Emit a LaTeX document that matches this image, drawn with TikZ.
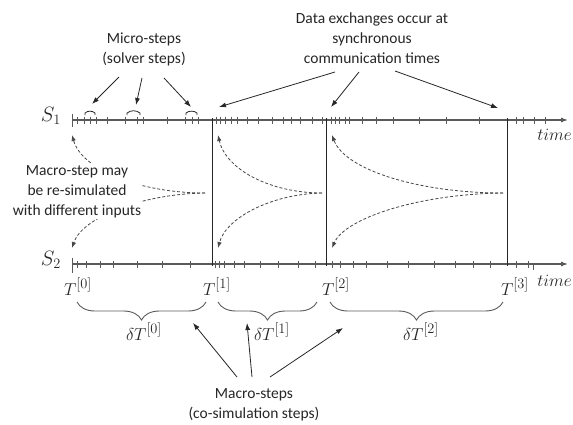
\documentclass[tikz,border=0pt]{standalone}
\usepackage{fontspec}
\setmainfont{Carlito}
\usetikzlibrary{arrows.meta,decorations.pathreplacing}
\DeclareMathSizes{18}{18}{14}{10}
\definecolor{axisgray}{HTML}{5A5A5A}
\definecolor{inkc}{HTML}{262626}
\begin{document}
\begin{tikzpicture}[x=1pt,y=-1pt,
  lbl/.style={inner sep=1pt,text=inkc,align=center,font=\fontsize{15.5}{20}\selectfont},
  mathlbl/.style={inner sep=0pt,text=inkc,font=\fontsize{18}{20}\selectfont},
  timelbl/.style={inner sep=0pt,text=inkc,font=\fontsize{16}{18}\selectfont},
  axisline/.style={draw=axisgray,line width=1.1pt,-{Latex[length=7pt,width=5pt]}},
  tickmark/.style={draw=axisgray,line width=0.8pt},
  commline/.style={draw=inkc,line width=1pt},
  ptr/.style={draw=inkc,line width=0.8pt,-{Latex[length=7pt,width=5pt]}},
  dashptr/.style={draw=inkc!85,line width=0.8pt,dash pattern=on 3pt off 2pt,-{Latex[length=6pt,width=4.5pt]}},
  bracestyle/.style={draw=axisgray,line width=0.9pt,decorate,decoration={brace,amplitude=18pt,mirror}},
  microarc/.style={draw=inkc,line width=0.8pt}]
\useasboundingbox (0,0) rectangle (573,424);

% axes
\coordinate (a1s) at (72.7,120);
\coordinate (a1e) at (568,120);
\coordinate (a2s) at (72.7,264);
\coordinate (a2e) at (568,264);
\draw[axisline] (a1s) -- (a1e);
\draw[axisline] (a2s) -- (a2e);
\draw[tickmark] (72.7,114) -- (72.7,127);
\draw[tickmark] (72.7,258) -- (72.7,273);
\foreach \x in {77,84,90,96,107,125,137,143,167,185,192,198,216,220,225,231,237,247,258,272,283,291,300,312,322,331,335,339,345,349,362,376,393,419,446,479,516,523,534,545}
  \draw[tickmark] (\x,116.5) -- (\x,123.5);
\foreach \x in {77,86,100,113,137,162,190,215,219,224,234,244,260,278,298,315,332,340,353,366,387,408,434,455,473,490,516,528}
  \draw[tickmark] (\x,260.5) -- (\x,267.5);
\draw[tickmark] (533,263) -- (533,270);

% communication time lines
\draw[commline] (212,118) -- (212,266);
\draw[commline] (326,118) -- (326,266);
\draw[commline] (507,118) -- (507,266);

% micro-step arcs
\draw[microarc] (85,115) -- (85,113) .. controls (88,110.5) and (92,110.5) .. (95,113) -- (95,115);
\draw[microarc] (127,115) -- (127,113) .. controls (131,110) and (136,110) .. (140,113) -- (140,115);
\draw[microarc] (186,115) -- (186,113) .. controls (189,110.5) and (194,110.5) .. (197,113) -- (197,115);

% axis labels
\node[mathlbl,font=\fontsize{20}{22}\selectfont] (s1) at (51,116) {$S_1$};
\node[mathlbl,font=\fontsize{20}{22}\selectfont] (s2) at (51,260) {$S_2$};
\node[timelbl,anchor=base east] (time1) at (572,140) {$time$};
\node[timelbl,anchor=base east] (time2) at (572,286) {$time$};

\node[mathlbl,anchor=base west] (t0) at (64,295) {$T^{[0]}$};
\node[mathlbl,anchor=base west] (t1) at (203,295) {$T^{[1]}$};
\node[mathlbl,anchor=base west] (t2) at (322,295) {$T^{[2]}$};
\node[mathlbl,anchor=base west] (t3) at (501,295) {$T^{[3]}$};

% braces
\draw[bracestyle] (77,302) -- (206,302);
\draw[bracestyle] (218,302) -- (317,302);
\draw[bracestyle] (330,302) -- (503,302);
\node[mathlbl,anchor=base] (dt0) at (144,340) {$\delta T^{[0]}$};
\node[mathlbl,anchor=base] (dt1) at (272,340) {$\delta T^{[1]}$};
\node[mathlbl,anchor=base] (dt2) at (421,340) {$\delta T^{[2]}$};

% re-simulation dashed arrows
\coordinate (m1) at (205,193);
\coordinate (u1) at (72,135);
\coordinate (l1) at (72,248);
\coordinate (m2) at (322,193);
\coordinate (u2) at (218,135);
\coordinate (l2) at (218,248);
\coordinate (m3) at (503,193);
\coordinate (u3) at (332,135);
\coordinate (l3) at (332,248);
\draw[dashptr] (m1) .. controls (140,193) and (82,170) .. (u1);
\draw[dashptr] (m1) .. controls (140,194) and (82,218) .. (l1);
\draw[dashptr] (m2) .. controls (271,193) and (226,170) .. (u2);
\draw[dashptr] (m2) .. controls (271,194) and (226,218) .. (l2);
\draw[dashptr] (m3) .. controls (419,193) and (345,170) .. (u3);
\draw[dashptr] (m3) .. controls (419,194) and (345,218) .. (l3);

\node[lbl,fill=white,anchor=base] (resim) at (77,215) {Macro-step may\\be re-simulated\\with different inputs};

% micro-steps
\node[lbl,anchor=base] (micro) at (144,63) {Micro-steps\\(solver steps)};
\coordinate (mi1s) at (119,77);
\coordinate (mi1e) at (92,104);
\coordinate (mi2s) at (142,78);
\coordinate (mi2e) at (136,105);
\coordinate (mi3s) at (164,78);
\coordinate (mi3e) at (191,107);
\draw[ptr] (mi1s) -- (mi1e);
\draw[ptr] (mi2s) -- (mi2e);
\draw[ptr] (mi3s) -- (mi3e);

% data exchanges
\node[lbl,anchor=base] (data) at (372,63) {Data exchanges occur at\\synchronous\\communication times};
\coordinate (d1s) at (335,72);
\coordinate (d1e) at (219,107);
\coordinate (d2s) at (359,72);
\coordinate (d2e) at (331,107);
\coordinate (d3s) at (395,71);
\coordinate (d3e) at (498,108);
\draw[ptr] (d1s) -- (d1e);
\draw[ptr] (d2s) -- (d2e);
\draw[ptr] (d3s) -- (d3e);

% macro-steps
\node[lbl,anchor=base] (macro) at (254,418) {Macro-steps\\(co-simulation steps)};
\coordinate (ma1s) at (237,377);
\coordinate (ma1e) at (193,323);
\coordinate (ma2s) at (252,377);
\coordinate (ma2e) at (247,323);
\coordinate (ma3s) at (270,377);
\coordinate (ma3e) at (343,328);
\draw[ptr] (ma1s) -- (ma1e);
\draw[ptr] (ma2s) -- (ma2e);
\draw[ptr] (ma3s) -- (ma3e);
\end{tikzpicture}
\end{document}
